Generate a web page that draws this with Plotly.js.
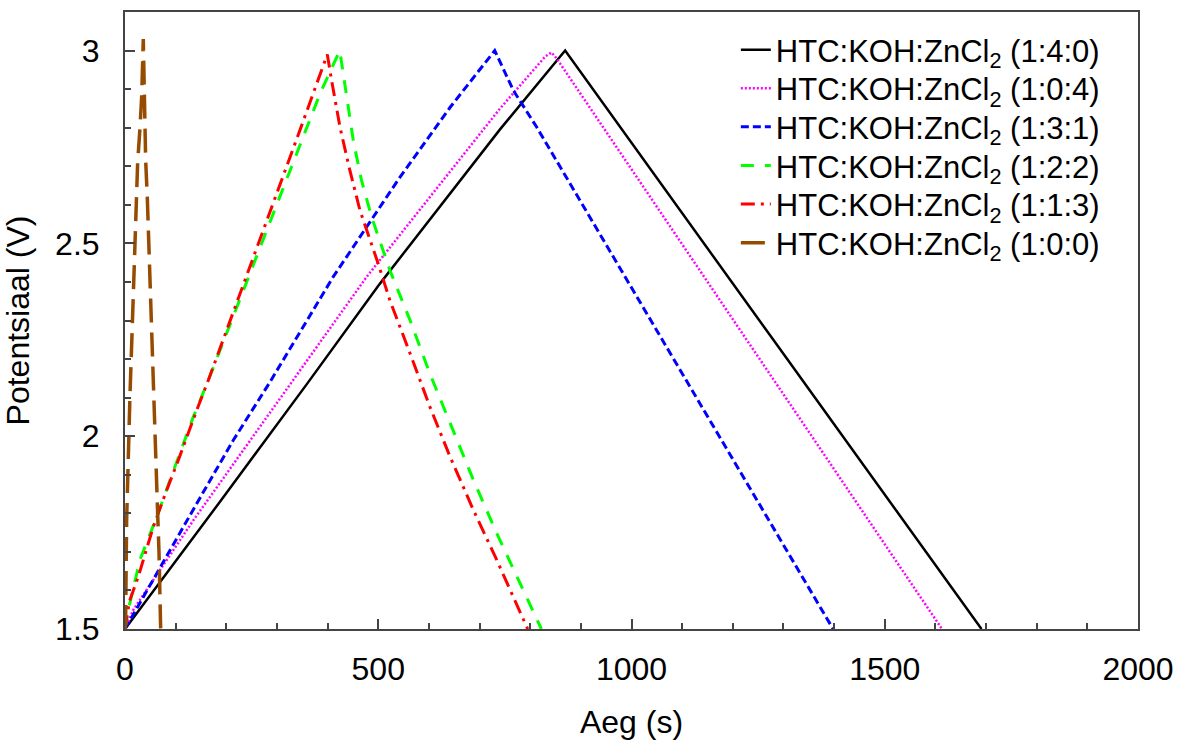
<!DOCTYPE html>
<html>
<head>
<meta charset="utf-8">
<script src="https://cdn.plot.ly/plotly-3.0.1.min.js"></script>
<style>html,body{margin:0;padding:0;background:#fff;}#chart{width:1179px;height:742px;}</style>
</head>
<body>
<div id="chart"></div>
<script>
// Series names
const seriesNames = [
  "HTC:KOH:ZnCl<sub>2</sub> (1:4:0)",
  "HTC:KOH:ZnCl<sub>2</sub> (1:0:4)",
  "HTC:KOH:ZnCl<sub>2</sub> (1:3:1)",
  "HTC:KOH:ZnCl<sub>2</sub> (1:2:2)",
  "HTC:KOH:ZnCl<sub>2</sub> (1:1:3)",
  "HTC:KOH:ZnCl<sub>2</sub> (1:0:0)"
];

// 1:4:0 (black)
const t140 = [0, 100, 187.5, 359, 503, 740, 869, 1280, 1691];
const v140 = [1.5, 1.675, 1.83, 2.135, 2.395, 2.795, 3.0, 2.25, 1.5];

// 1:0:4 (magenta)
const t104 = [0, 16.5, 135, 332, 477, 740, 830, 842, 852, 1613];
const v104 = [1.5, 1.55, 1.782, 2.145, 2.413, 2.849, 2.985, 2.995, 2.98, 1.5];

// 1:3:1 (blue)
const t131 = [0, 82, 148, 214, 286, 411, 543, 642, 730, 767, 813, 1398];
const v131 = [1.5, 1.69, 1.84, 1.99, 2.14, 2.413, 2.672, 2.853, 3.0, 2.896, 2.801, 1.5];

// 1:2:2 (green)
const t122 = [0, 6.6, 29.6, 62.5, 88.8, 134.9, 164.5, 352, 385, 424, 437.6, 450.7, 467, 487, 523, 563, 602, 642, 688, 734, 780, 822];
const v122 = [1.5, 1.55, 1.68, 1.79, 1.886, 2.05, 2.145, 2.775, 2.888, 3.0, 2.879, 2.767, 2.663, 2.568, 2.43, 2.30, 2.162, 2.033, 1.886, 1.748, 1.618, 1.5];

// 1:1:3 (red)
const t113 = [0, 8.5, 26.3, 55.9, 82.3, 105.3, 141.5, 164.5, 348.8, 368.6, 388.3, 399.4, 408, 424.5, 444, 464, 500, 523, 563, 602, 642, 688, 734, 786, 795];
const v113 = [1.5, 1.571, 1.636, 1.765, 1.86, 1.938, 2.067, 2.145, 2.806, 2.879, 2.948, 2.99, 2.922, 2.801, 2.689, 2.585, 2.447, 2.352, 2.214, 2.076, 1.946, 1.808, 1.679, 1.523, 1.5];

// 1:0:0 (brown)
const t100 = [0, 1.3, 3.2, 6.6, 9.9, 14.5, 19.7, 25, 29.6, 32.9, 36.1, 38.2, 40.8, 44, 48, 51.3, 54, 57.3, 60.6, 63.8, 67.2, 70.4];
const v100 = [1.5, 1.53, 1.78, 2.0, 2.11, 2.29, 2.53, 2.71, 2.80, 2.88, 3.03, 2.88, 2.715, 2.62, 2.47, 2.36, 2.22, 2.085, 1.955, 1.826, 1.696, 1.5];

const xTitle = "Aeg (s)";
const yTitle = "Potentsiaal (V)\u00A0\u00A0\u00A0";

const FONT = "Liberation Sans, Arial, sans-serif";
const FS = 32;
const LFS = 31;

const styles = [
  {color: "#000000", dash: "solid", width: 2.5},
  {color: "#ff00ff", dash: "2px,2px", width: 2.5},
  {color: "#0000ff", dash: "8px,4px", width: 3},
  {color: "#00ff00", dash: "13px,11px", width: 3},
  {color: "#ff0000", dash: "14px,6px,3px,6px", width: 3},
  {color: "#964b00", dash: "24px,10px", width: 3.5}
];

const xs = [t140, t104, t131, t122, t113, t100];
const ys = [v140, v104, v131, v122, v113, v100];
const legendIds = ["legend", "legend2", "legend3", "legend4", "legend5", "legend6"];

const traces = xs.map((x, i) => ({
  x: x, y: ys[i], type: "scatter", mode: "lines", name: seriesNames[i],
  legend: legendIds[i],
  line: {color: styles[i].color, dash: styles[i].dash, width: styles[i].width}
}));

const axisCommon = {
  showgrid: false, zeroline: false, showline: true, linecolor: "#444", linewidth: 2,
  mirror: true, ticks: "inside", ticklen: 10, tickwidth: 2, tickcolor: "#444",
  tickfont: {family: FONT, size: FS, color: "#000"}
};

const layout = {
  width: 1179, height: 742,
  margin: {l: 125, r: 41, t: 12, b: 113},
  paper_bgcolor: "#fff", plot_bgcolor: "#fff",
  font: {family: FONT, color: "#000"},
  showlegend: true,
  xaxis: Object.assign({}, axisCommon, {
    range: [0, 2000], tick0: 0, dtick: 500,
    minor: {dtick: 100, ticks: "inside", ticklen: 6, tickwidth: 2, tickcolor: "#444", showgrid: false},
    ticklabelstandoff: 11,
    title: {text: xTitle, font: {family: FONT, size: FS, color: "#000"}, standoff: 24}
  }),
  yaxis: Object.assign({}, axisCommon, {
    range: [1.5, 3.1], tick0: 1.5, dtick: 0.5,
    minor: {dtick: 0.1, ticks: "inside", ticklen: 6, tickwidth: 2, tickcolor: "#444", showgrid: false},
    ticklabelstandoff: 17,
    title: {text: yTitle, font: {family: FONT, size: FS, color: "#000"}, standoff: 16}
  })
};

// one legend per row, stacked at the reference row spacing
const rowCentersPx = [50, 88.6, 127.2, 165.8, 204.4, 243];
legendIds.forEach((id, i) => {
  layout[id] = {
    x: 0.603, y: (629 - rowCentersPx[i]) / 617, xanchor: "left", yanchor: "middle",
    bgcolor: "rgba(0,0,0,0)", borderwidth: 0,
    font: {family: FONT, size: LFS, color: "#000"}
  };
});

Plotly.newPlot("chart", traces, layout, {displayModeBar: false, staticPlot: true});
</script>
</body>
</html>
